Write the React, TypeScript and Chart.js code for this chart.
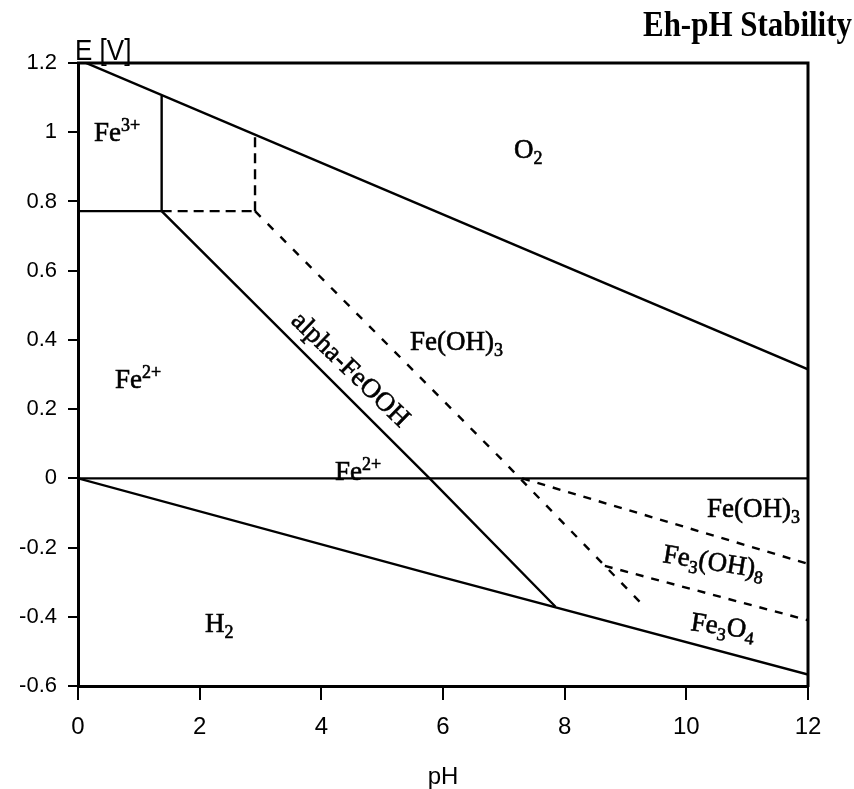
import React, { useEffect, useRef } from "react";
import { Chart, registerables } from "chart.js";

Chart.register(...registerables);

// ---- axis ticks ----
const pHTicks = [0, 2, 4, 6, 8, 10, 12];
const pHTickLabels = ["0", "2", "4", "6", "8", "10", "12"];
const eTicks = [-0.6, -0.4, -0.2, 0, 0.2, 0.4, 0.6, 0.8, 1, 1.2];
const eTickLabels = ["-0.6", "-0.4", "-0.2", "0", "0.2", "0.4", "0.6", "0.8", "1", "1.2"];

// ---- boundary lines (pH, E [V]) ----
const o2PH = [0, 12];
const o2E = [1.21, 0.315];
const h2PH = [0, 6, 12];
const h2E = [0, -0.286, -0.567];
const zeroPH = [0, 12];
const zeroE = [0, 0];
const fe3HorizPH = [0, 1.375];
const fe3HorizE = [0.772, 0.772];
const fe3VertPH = [1.375, 1.375];
const fe3VertE = [0.772, 1.105];
const goethitePH = [1.375, 5.78, 7.85];
const goethiteE = [0.772, 0, -0.371];
const feoh3DashHorizPH = [1.375, 2.91];
const feoh3DashHorizE = [0.772, 0.772];
const feoh3DashVertPH = [2.91, 2.91];
const feoh3DashVertE = [0.772, 0.99];
const feoh3DiagPH = [2.91, 6.94, 9.28];
const feoh3DiagE = [0.772, 0.059, -0.365];
const feoh3LowPH = [7.3, 12];
const feoh3LowE = [0, -0.247];
const fe3oh8PH = [8.66, 12];
const fe3oh8E = [-0.253, -0.41];

// ---- region labels: parts [text, 0 normal | 1 sup | -1 sub] ----
const labelParts: [string, number][][] = [
  [["Fe", 0], ["3+", 1]],
  [["O", 0], ["2", -1]],
  [["Fe(OH)", 0], ["3", -1]],
  [["Fe", 0], ["2+", 1]],
  [["alpha-FeOOH", 0]],
  [["Fe", 0], ["2+", 1]],
  [["H", 0], ["2", -1]],
  [["Fe(OH)", 0], ["3", -1]],
  [["Fe", 0], ["3", -1], ["(OH)", 0], ["8", -1]],
  [["Fe", 0], ["3", -1], ["O", 0], ["4", -1]],
];
const labelPH = [0.263, 7.167, 5.458, 0.608, 4.39, 4.225, 2.088, 10.34, 9.6, 10.06];
const labelE = [0.975, 0.926, 0.371, 0.261, 0.298, -0.005, -0.444, -0.112, -0.242, -0.438];
const labelAngle = [0, 0, 0, 0, 44, 0, 0, 0, 9, 8];
const labelAlign = ["left", "left", "left", "left", "center", "left", "left", "left", "left", "left"];

const titleText = "Eh-pH Stability";
const yAxisTitle = "E [V]";
const xAxisTitle = "pH";

const toPts = (xs: number[], ys: number[]) => xs.map((x, i) => ({ x, y: ys[i] }));

const SERIF = "'Liberation Serif', 'Times New Roman', serif";
const SANS = "'Liberation Sans', Arial, sans-serif";

function drawRich(
  ctx: CanvasRenderingContext2D,
  parts: [string, number][],
  x: number,
  y: number,
  size: number,
  angle: number,
  align: string
) {
  ctx.save();
  ctx.translate(x, y);
  ctx.rotate((angle * Math.PI) / 180);
  ctx.fillStyle = "#000";
  ctx.strokeStyle = "#000";
  ctx.lineWidth = 0.6;
  ctx.textBaseline = "alphabetic";
  ctx.textAlign = "left";
  const fontFor = (k: number) => `${k === 0 ? size : Math.round(size * 0.65)}px ${SERIF}`;
  let total = 0;
  for (const [t, k] of parts) {
    ctx.font = fontFor(k);
    total += ctx.measureText(t).width;
  }
  let cx = align === "center" ? -total / 2 : 0;
  for (const [t, k] of parts) {
    ctx.font = fontFor(k);
    const dy = k === 1 ? -size * 0.38 : k === -1 ? size * 0.22 : 0;
    ctx.fillText(t, cx, dy);
    ctx.strokeText(t, cx, dy);
    cx += ctx.measureText(t).width;
  }
  ctx.restore();
}

const decorPlugin = {
  id: "decor",
  afterDatasetsDraw(chart: any) {
    const ctx: CanvasRenderingContext2D = chart.ctx;
    const xs = chart.scales.x;
    const ys = chart.scales.y;
    for (let i = 0; i < labelParts.length; i++) {
      drawRich(
        ctx,
        labelParts[i],
        xs.getPixelForValue(labelPH[i]),
        ys.getPixelForValue(labelE[i]),
        27,
        labelAngle[i],
        labelAlign[i]
      );
    }
  },
  afterDraw(chart: any) {
    const ctx: CanvasRenderingContext2D = chart.ctx;
    const a = chart.chartArea;
    ctx.save();
    // top and right frame
    ctx.strokeStyle = "#000";
    ctx.lineWidth = 3;
    ctx.beginPath();
    ctx.moveTo(a.left - 1, a.top);
    ctx.lineTo(a.right, a.top);
    ctx.lineTo(a.right, a.bottom + 1);
    ctx.stroke();
    // title
    ctx.fillStyle = "#000";
    ctx.font = `bold 32px ${SERIF}`;
    ctx.textAlign = "left";
    ctx.textBaseline = "alphabetic";
    const w = ctx.measureText(titleText).width;
    ctx.save();
    ctx.translate(643, 36);
    ctx.scale(209 / w, 1.1);
    ctx.fillText(titleText, 0, 0);
    ctx.restore();
    // y axis title
    ctx.font = `26px ${SANS}`;
    ctx.save();
    ctx.translate(a.left - 3, a.top - 3);
    ctx.scale(1, 1.15);
    ctx.fillText(yAxisTitle, 0, 0);
    ctx.restore();
    ctx.restore();
  },
};

const lineDs = (label: string, xs: number[], ys: number[], dash: number[] = [], width = 2.4) => ({
  label,
  data: toPts(xs, ys),
  showLine: true,
  borderColor: "#000",
  backgroundColor: "#000",
  borderWidth: width,
  borderDash: dash,
  pointRadius: 0,
  pointHoverRadius: 0,
  fill: false,
  tension: 0,
});

export default function App() {
  const ref = useRef<HTMLCanvasElement | null>(null);
  useEffect(() => {
    if (!ref.current) return;
    const chart = new Chart(ref.current, {
      type: "scatter",
      data: {
        datasets: [
          lineDs("O2/H2O", o2PH, o2E),
          lineDs("H2O/H2", h2PH, h2E),
          lineDs("zero", zeroPH, zeroE),
          lineDs("Fe3+/Fe2+", fe3HorizPH, fe3HorizE),
          lineDs("Fe3+/FeOOH", fe3VertPH, fe3VertE),
          lineDs("alpha-FeOOH", goethitePH, goethiteE),
          lineDs("Fe(OH)3 horiz", feoh3DashHorizPH, feoh3DashHorizE, [10, 6]),
          lineDs("Fe(OH)3 vert", feoh3DashVertPH, feoh3DashVertE, [10, 6]),
          lineDs("Fe(OH)3 diag", feoh3DiagPH, feoh3DiagE, [8, 10]),
          lineDs("Fe(OH)3 low", feoh3LowPH, feoh3LowE, [8, 8]),
          lineDs("Fe3(OH)8", fe3oh8PH, fe3oh8E, [8, 8]),
        ],
      },
      options: {
        responsive: false,
        animation: false,
        devicePixelRatio: 1,
        events: [],
        layout: { padding: { top: 63, right: 46, left: 0, bottom: 0 } },
        plugins: {
          legend: { display: false },
          tooltip: { enabled: false },
          title: { display: false },
        },
        scales: {
          x: {
            type: "linear",
            min: 0,
            max: 12,
            afterBuildTicks: (s: any) => {
              s.ticks = pHTicks.map((v) => ({ value: v }));
            },
            afterFit: (s: any) => {
              s.height = 103;
            },
            ticks: {
              autoSkip: false,
              maxRotation: 0,
              padding: 13,
              color: "#000",
              font: { family: SANS, size: 24 },
              callback: (_v: any, i: number) => pHTickLabels[i],
            },
            grid: {
              display: true,
              drawOnChartArea: false,
              drawTicks: true,
              tickLength: 14,
              color: "#000",
              lineWidth: 2,
            },
            border: { display: true, color: "#000", width: 3 },
            title: {
              display: true,
              text: xAxisTitle,
              color: "#000",
              font: { family: SANS, size: 24, lineHeight: 1 },
              padding: 0,
            },
          },
          y: {
            type: "linear",
            min: -0.6,
            max: 1.2,
            afterBuildTicks: (s: any) => {
              s.ticks = eTicks.map((v) => ({ value: v }));
            },
            afterFit: (s: any) => {
              s.width = 78;
            },
            ticks: {
              autoSkip: false,
              padding: 11,
              color: "#000",
              font: { family: SANS, size: 22 },
              callback: (_v: any, i: number) => eTickLabels[i],
            },
            grid: {
              display: true,
              drawOnChartArea: false,
              drawTicks: true,
              tickLength: 10,
              color: "#000",
              lineWidth: 2,
            },
            border: { display: true, color: "#000", width: 3 },
          },
        },
      },
      plugins: [decorPlugin],
    } as any);
    return () => chart.destroy();
  }, []);

  return (
    <div style={{ position: "absolute", left: 0, top: 0, width: 854, height: 789, background: "#fff" }}>
      <canvas ref={ref} width={854} height={789} style={{ display: "block", width: 854, height: 789 }} />
    </div>
  );
}
